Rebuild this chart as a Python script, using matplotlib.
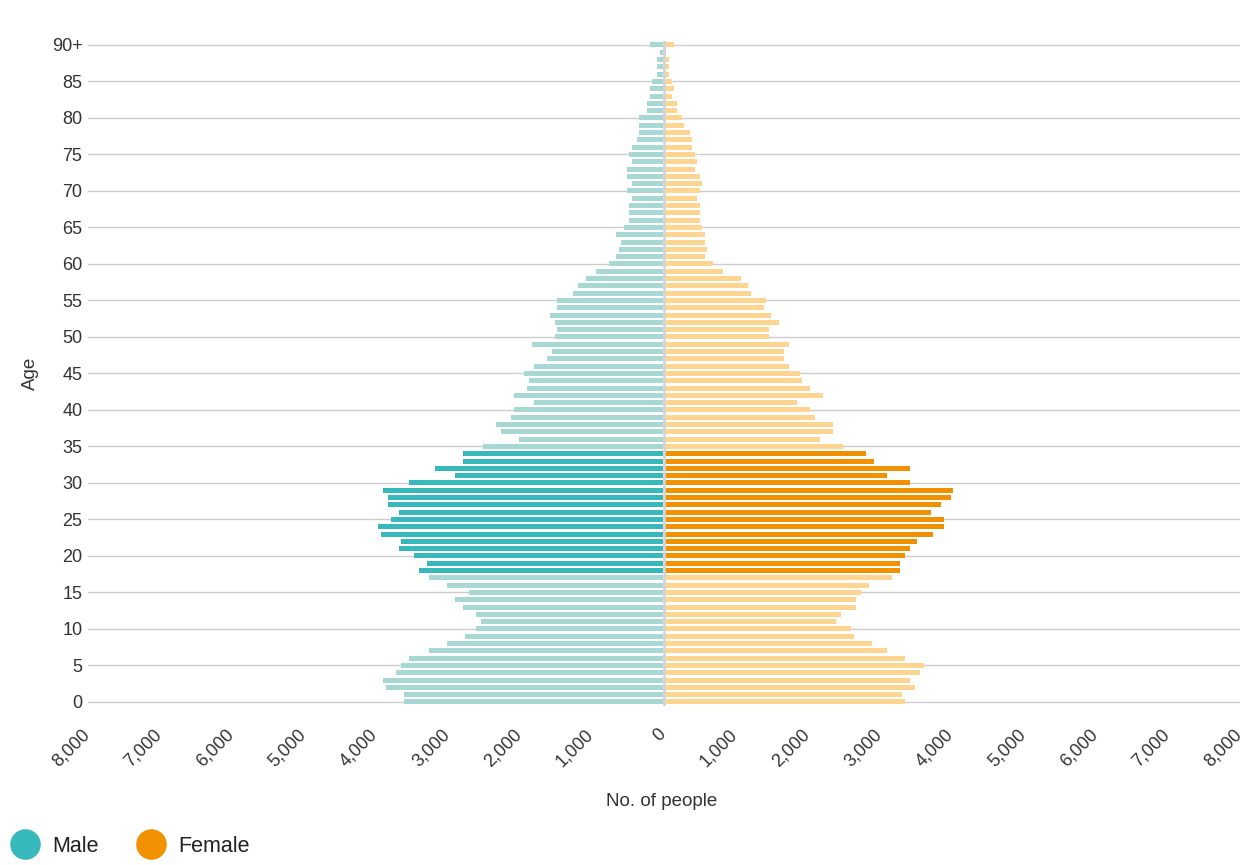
import matplotlib
matplotlib.use("Agg")
import matplotlib.pyplot as plt
import matplotlib.transforms as mtransforms
import numpy as np
from matplotlib.lines import Line2D
from matplotlib.ticker import FuncFormatter

plt.rcParams["font.family"] = ["Liberation Sans", "DejaVu Sans"]

# single years of age, 0 .. 90+
ages = np.arange(0, 91)
age_labels = [str(a) for a in range(0, 90, 5)] + ["90+"]
highlight_ages = (18, 34)

male = [
    3605, 3605, 3850, 3895, 3715, 3645, 3535, 3255, 3005, 2755,
    2600, 2535, 2600, 2785, 2895, 2690, 3005, 3255, 3395, 3285,
    3465, 3670, 3645, 3920, 3965, 3785, 3670, 3825, 3825, 3895,
    3535, 2895, 3170, 2785, 2785, 2505, 2005, 2255, 2320, 2115,
    2070, 1795, 2070, 1890, 1865, 1935, 1795, 1615, 1545, 1820,
    1500, 1475, 1500, 1570, 1475, 1475, 1250, 1180, 1070, 930,
    750, 655, 610, 585, 655, 545, 475, 475, 475, 430,
    500, 430, 500, 500, 430, 475, 430, 360, 335, 335,
    335, 220, 220, 180, 180, 155, 85, 85, 85, 40,
    180,
]
female = [
    3340, 3300, 3480, 3410, 3550, 3595, 3340, 3090, 2870, 2620,
    2590, 2380, 2450, 2660, 2660, 2730, 2840, 3160, 3270, 3270,
    3340, 3410, 3505, 3730, 3870, 3870, 3690, 3840, 3980, 4005,
    3410, 3090, 3410, 2910, 2795, 2475, 2155, 2335, 2335, 2085,
    2015, 1835, 2195, 2015, 1905, 1880, 1725, 1655, 1655, 1725,
    1445, 1445, 1585, 1475, 1375, 1405, 1195, 1155, 1055, 805,
    670, 555, 585, 555, 555, 515, 485, 485, 485, 445,
    485, 515, 485, 415, 445, 415, 375, 375, 350, 265,
    235, 165, 165, 100, 125, 100, 55, 55, 55, 10,
    120,
]

MALE_DARK, MALE_LIGHT = "#37b8bb", "#a8d8d5"
FEMALE_DARK, FEMALE_LIGHT = "#f29100", "#fdd490"
TEXT = "#333333"

male = np.asarray(male)
female = np.asarray(female)
hl = (ages >= highlight_ages[0]) & (ages <= highlight_ages[1])

fig = plt.figure(figsize=(12.48, 8.65), dpi=100)
ax = fig.add_axes([0.0705, 0.1834, 0.9231, 0.7697])

bar_h = 0.68
ax.barh(ages, -male, height=bar_h, left=-12,
        color=np.where(hl, MALE_DARK, MALE_LIGHT), zorder=2)
ax.barh(ages, female, height=bar_h, left=12,
        color=np.where(hl, FEMALE_DARK, FEMALE_LIGHT), zorder=2)
ax.axvline(0, color="#d4d4d4", lw=2, zorder=3)

ax.set_xlim(-8000, 8000)
ax.set_ylim(-0.6, 90.6)
ax.set_yticks(np.arange(0, 91, 5))
ax.set_yticklabels(age_labels)
ax.set_xticks(np.arange(-8000, 8001, 1000))
ax.xaxis.set_major_formatter(FuncFormatter(lambda v, _: f"{abs(int(v)):,}"))
ax.grid(axis="y", color="#cccccc", lw=1, zorder=0)
ax.set_axisbelow(True)
for s in ax.spines.values():
    s.set_visible(False)

ax.tick_params(axis="y", length=0, pad=4, labelsize=13, labelcolor=TEXT)
ax.tick_params(axis="x", length=0, pad=14, labelsize=13, labelcolor=TEXT)
shift = mtransforms.ScaledTranslation(-7 / 100, 0, fig.dpi_scale_trans)
for lab in ax.get_xticklabels():
    lab.set_rotation(45)
    lab.set_ha("right")
    lab.set_va("top")
    lab.set_rotation_mode("anchor")
    lab.set_transform(lab.get_transform() + shift)

ax.set_ylabel("Age", fontsize=13.5, color=TEXT, labelpad=9)
fig.text(0.53, 1 - 802 / 865, "No. of people", fontsize=13.5, color=TEXT,
         ha="center", va="center")

handles = [
    Line2D([], [], ls="none", marker="o", markersize=21, color=MALE_DARK, label="Male"),
    Line2D([], [], ls="none", marker="o", markersize=21, color=FEMALE_DARK, label="Female"),
]
fig.legend(handles=handles, loc="center left", bbox_to_anchor=(-0.004, 1 - 846 / 865),
           ncol=2, frameon=False, fontsize=15.5, handletextpad=0.25,
           columnspacing=1.45, borderaxespad=0, labelcolor="#222222")

fig.savefig("out.png", dpi=100)
